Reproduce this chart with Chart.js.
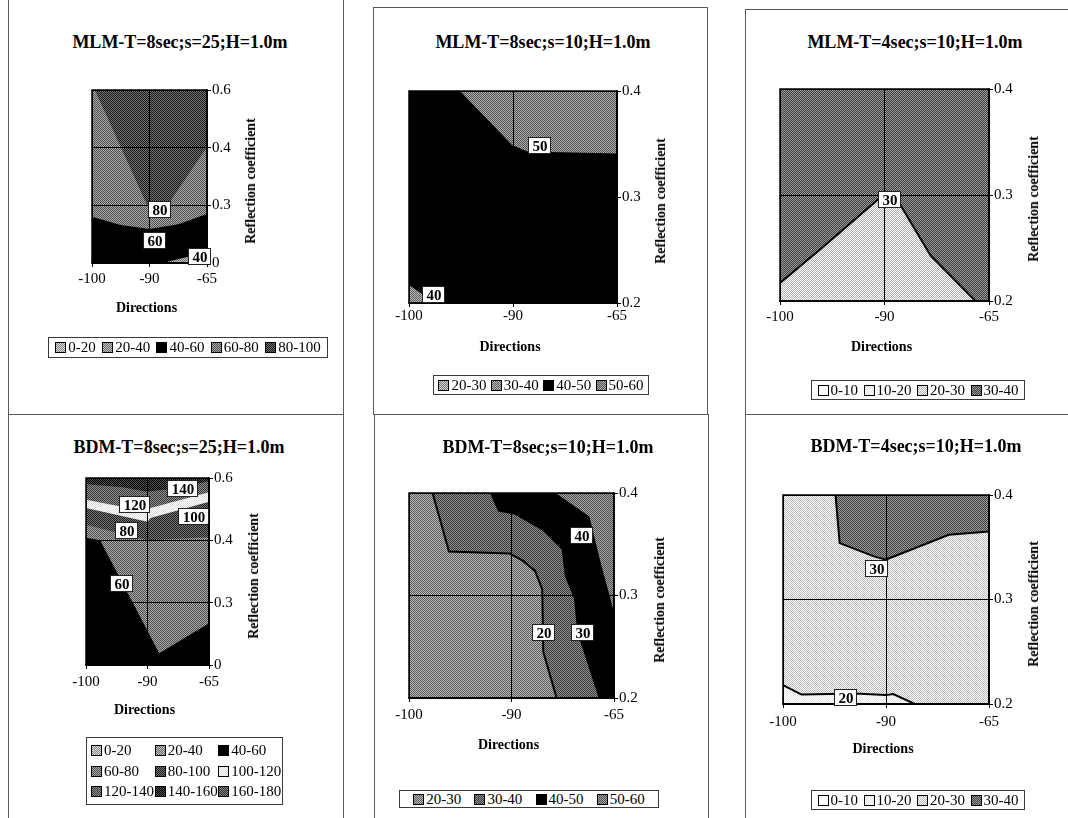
<!DOCTYPE html>
<html>
<head>
<meta charset="utf-8">
<title>Reflection coefficient vs direction – MLM / BDM contour maps</title>
<script src="https://cdn.jsdelivr.net/npm/chart.js@4.4.1/dist/chart.umd.min.js"></script>
<style>
  html, body { margin:0; padding:0; background:#fff; }
  body { position:relative; width:1068px; height:818px; overflow:hidden;
         font-family:'Liberation Serif','Times New Roman',serif; color:#000; }
  .frame { position:absolute; border:1px solid #5a5a5a; box-sizing:border-box; }
  canvas { position:absolute; }
  .t { position:absolute; white-space:nowrap; transform:translate(-50%,-50%); font-weight:bold; line-height:1; }
  .title { font-size:18px; }
  .axt { font-size:14px; }
  .yax { transform:translate(-50%,-50%) rotate(-90deg); }
  .legend { position:absolute; border:1px solid #3a3a3a; box-sizing:border-box; font-size:15px;
            display:flex; align-items:center; justify-content:space-evenly; }
  .legend.grid { display:grid; grid-template-columns:repeat(3,1fr); align-content:space-evenly;
                 justify-content:stretch; padding-left:4px; }
  .item { display:flex; align-items:center; white-space:nowrap; line-height:1; }
  .sw { width:9px; height:9px; border:1px solid #000; margin-right:2px; flex:none; }
</style>
</head>
<body>
<script>
// ---- category axes -------------------------------------------------------
const directions = ['-100', '-90', '-65'];
const reflectionWide = ['0', '0.3', '0.4', '0.6'];
const reflectionNarrow = ['0.2', '0.3', '0.4'];

// ---- value bands shown in the legends ------------------------------------
const bands0to100 = ['0-20', '20-40', '40-60', '60-80', '80-100'];
const bands20to60 = ['20-30', '30-40', '40-50', '50-60'];
const bands0to40 = ['0-10', '10-20', '20-30', '30-40'];
const bands0to180 = ['0-20', '20-40', '40-60', '60-80', '80-100', '100-120', '120-140', '140-160', '160-180'];

// grey tone of each band (0 = black, 255 = white)
const tonesMlm8s25 = [175, 150, 0, 125, 70];
const tonesMlm8s10 = [165, 140, 0, 128];
const tonesMlm4s10 = [255, 240, 214, 108];
const tonesBdm8s25 = [180, 150, 0, 124, 74, 238, 100, 40, 90];
const tonesBdm8s10 = [138, 100, 0, 122];
const tonesBdm4s10 = [255, 242, 220, 110];

// ---- contour lines: [direction index, reflection index] ------------------
// MLM  T=8s  s=25
const mlm8s25Level60 = [[0, 0.80], [0.5, 0.66], [1, 0.59], [1.5, 0.67], [2, 0.85]];
const mlm8s25Level80 = [[0.05, 3], [0.97, 0.98], [1.3, 0.98], [2, 2.01]];
const mlm8s25Level40 = [[1.23, 0], [2, 0.19]];
const mlm8s25Tags = [['80', 1.19, 0.92], ['60', 1.09, 0.39], ['40', 1.87, 0.10]];

// MLM  T=8s  s=10
const mlm8s10Level50 = [[0.49, 2], [0.99, 1.49], [1.14, 1.43], [2, 1.41]];
const mlm8s10Level40 = [[0, 0.17], [0.25, 0]];
const mlm8s10Tags = [['50', 1.26, 1.48], ['40', 0.24, 0.08]];

// MLM  T=4s  s=10
const mlm4s10Level30 = [[0, 0.17], [0.4, 0.5], [0.94, 0.96], [1.0, 1.0], [1.12, 0.96], [1.44, 0.43], [1.87, 0]];
const mlm4s10Tags = [['30', 1.05, 0.95]];

// BDM  T=8s  s=25
const bdm8s25Level60 = [[0, 2.04], [0.23, 2.0], [1.19, 0.19], [2, 0.67]];
const bdm8s25Level80 = [[0, 2.25], [1, 2.0], [2, 2.05]];
const bdm8s25Level100 = [[0, 2.52], [1, 2.30], [1.05, 2.36], [2, 2.62]];
const bdm8s25Level120 = [[0, 2.65], [1, 2.46], [1.05, 2.52], [2, 2.77]];
const bdm8s25Level140 = [[0, 2.9], [0.6, 2.85], [1, 2.78], [1.6, 2.85], [2, 2.95]];
const bdm8s25Tags = [['140', 1.57, 2.83], ['120', 0.80, 2.57], ['100', 1.76, 2.38], ['80', 0.67, 2.15], ['60', 0.59, 1.30]];

// BDM  T=8s  s=10
const bdm8s10Level50 = [[0, 2], [1.43, 2], [1.76, 1.77], [1.87, 1.32], [2, 0.84]];
const bdm8s10Level40 = [[0, 2], [0.79, 2], [0.87, 1.82], [1.03, 1.79], [1.31, 1.63], [1.49, 1.45], [1.52, 1.19], [1.61, 0.97], [1.64, 0.65], [1.85, 0]];
const bdm8s10Level30 = [[0, 2], [0.23, 2], [0.39, 1.43], [0.98, 1.41], [1.11, 1.34], [1.23, 1.24], [1.30, 1.06], [1.31, 0.45], [1.44, 0]];
const bdm8s10Tags = [['40', 1.69, 1.58], ['20', 1.32, 0.63], ['30', 1.70, 0.63]];

// BDM  T=4s  s=10
const bdm4s10Level30 = [[0.51, 2], [0.55, 1.54], [0.89, 1.41], [1.0, 1.38], [1.02, 1.39], [1.61, 1.62], [2, 1.65]];
const bdm4s10Level20 = [[0, 0.18], [0.18, 0.09], [0.7, 0.10], [1.0, 0.085], [1.07, 0.095], [1.28, 0]];
const bdm4s10Tags = [['30', 0.91, 1.29], ['20', 0.61, 0.057]];

// ---- panel layout ----------------------------------------------------------
const panels = [
  { title: 'MLM-T=8sec;s=25;H=1.0m', frame: [8, -2, 344, 415], plot: [92, 90, 207, 263], titleAt: [180, 42],
    yCats: reflectionWide, bands: bands0to100, tones: tonesMlm8s25, base: 2,
    contours: [{ line: mlm8s25Level60, band: 3, side: 'end' }, { line: mlm8s25Level80, band: 4, side: 'end' },
               { line: mlm8s25Level40, band: 1, side: 'start' }],
    tags: mlm8s25Tags, xLabelOffset: 16, dirY: 308, yTitleX: 251, legend: [48, 337, 328, 358] },
  { title: 'MLM-T=8sec;s=10;H=1.0m', frame: [373, 7, 708, 415], plot: [409, 91, 617, 303], titleAt: [543, 42],
    yCats: reflectionNarrow, bands: bands20to60, tones: tonesMlm8s10, base: 2,
    contours: [{ line: mlm8s10Level50, band: 3, side: 'end' }, { line: mlm8s10Level40, band: 1, side: 'start' }],
    tags: mlm8s10Tags, xLabelOffset: 13, dirY: 347, yTitleX: 661, legend: [433, 375, 649, 395] },
  { title: 'MLM-T=4sec;s=10;H=1.0m', frame: [745, 9, 1075, 415], plot: [780, 89, 989, 301], titleAt: [915, 42],
    yCats: reflectionNarrow, bands: bands0to40, tones: tonesMlm4s10, base: 3,
    contours: [{ line: mlm4s10Level30, band: 2, side: 'start', stroke: true }],
    tags: mlm4s10Tags, xLabelOffset: 16, dirY: 347, yTitleX: 1034, legend: [811, 380, 1025, 400] },
  { title: 'BDM-T=8sec;s=25;H=1.0m', frame: [8, 414, 344, 825], plot: [86, 478, 209, 665], titleAt: [179, 447],
    yCats: reflectionWide, bands: bands0to180, tones: tonesBdm8s25, base: 2,
    contours: [{ line: bdm8s25Level60, band: 3, side: 'end' }, { line: bdm8s25Level80, band: 4, side: 'end' },
               { line: bdm8s25Level100, band: 5, side: 'end' }, { line: bdm8s25Level120, band: 6, side: 'end' },
               { line: bdm8s25Level140, band: 7, side: 'end' }],
    tags: bdm8s25Tags, xLabelOffset: 17, dirY: 710, yTitleX: 254, legend: [86, 737, 283, 805], grid: true },
  { title: 'BDM-T=8sec;s=10;H=1.0m', frame: [374, 414, 709, 825], plot: [409, 493, 614, 698], titleAt: [548, 447],
    yCats: reflectionNarrow, bands: bands20to60, tones: tonesBdm8s10, base: 3,
    contours: [{ line: bdm8s10Level50, band: 2, side: 'start' }, { line: bdm8s10Level40, band: 1, side: 'start' },
               { line: bdm8s10Level30, band: 0, side: 'start', stroke: true }],
    tags: bdm8s10Tags, xLabelOffset: 17, dirY: 745, yTitleX: 660, legend: [399, 790, 659, 808] },
  { title: 'BDM-T=4sec;s=10;H=1.0m', frame: [745, 414, 1075, 825], plot: [783, 495, 989, 704], titleAt: [916, 446],
    yCats: reflectionNarrow, bands: bands0to40, tones: tonesBdm4s10, base: 2,
    contours: [{ line: bdm4s10Level30, band: 3, side: 'end', stroke: true },
               { line: bdm4s10Level20, band: 1, side: 'start', stroke: true }],
    tags: bdm4s10Tags, xLabelOffset: 18, dirY: 749, yTitleX: 1034, legend: [811, 790, 1025, 810] }
];

// ---- helpers ---------------------------------------------------------------
const SERIF = "'Liberation Serif','Times New Roman',serif";
const grey = v => { const c = Math.max(0, Math.min(255, Math.round(v))); return `rgb(${c},${c},${c})`; };
const spread = t => Math.min(t, 255 - t, 45);

// halftone-like two-tone checker used for the band fills
function stipple(ctx, tone) {
  if (tone <= 6) return '#000';
  const d = spread(tone);
  if (d <= 2) return grey(tone);
  const tile = document.createElement('canvas');
  tile.width = tile.height = 2;
  const g = tile.getContext('2d');
  g.fillStyle = grey(tone + d); g.fillRect(0, 0, 2, 2);
  g.fillStyle = grey(tone - d); g.fillRect(0, 0, 1, 1); g.fillRect(1, 1, 1, 1);
  return ctx.createPattern(tile, 'repeat');
}
function swatchCss(tone) {
  if (tone <= 6) return '#000';
  const d = spread(tone);
  return `repeating-conic-gradient(${grey(tone - d)} 0% 25%, ${grey(tone + d)} 0% 50%) 0 0 / 2px 2px`;
}
function addText(cls, text, x, y) {
  const el = document.createElement('div');
  el.className = 't ' + cls;
  el.textContent = text;
  el.style.left = x + 'px';
  el.style.top = y + 'px';
  document.body.appendChild(el);
}

// frame of the plot area plus the boxed contour values
const levelTags = {
  id: 'levelTags',
  afterDraw(chart, args, opts) {
    const { ctx, chartArea: a, scales } = chart;
    ctx.save();
    ctx.strokeStyle = '#000';
    ctx.lineWidth = 1.5;
    ctx.strokeRect(a.left, a.top, a.right - a.left, a.bottom - a.top);
    ctx.font = `bold 15px ${SERIF}`;
    ctx.textAlign = 'center';
    ctx.textBaseline = 'middle';
    for (const [text, vx, vy] of (opts.items || [])) {
      const px = Math.round(scales.x.getPixelForValue(vx));
      const py = Math.round(scales.y.getPixelForValue(vy));
      const w = Math.round(ctx.measureText(text).width + 8), h = 17;
      const l = px - Math.round(w / 2), t = py - Math.round(h / 2);
      ctx.fillStyle = '#fff';
      ctx.fillRect(l, t, w, h);
      ctx.strokeStyle = '#222';
      ctx.lineWidth = 1;
      ctx.strokeRect(l + 0.5, t + 0.5, w - 1, h - 1);
      ctx.fillStyle = '#000';
      ctx.fillText(text, px, py + 1);
    }
    ctx.restore();
  }
};

function buildPanel(p) {
  const [fl, ft, fr, fb] = p.frame;
  const frame = document.createElement('div');
  frame.className = 'frame';
  Object.assign(frame.style, { left: fl + 'px', top: ft + 'px', width: (fr - fl) + 'px', height: (fb - ft) + 'px' });
  document.body.appendChild(frame);

  const [pl, pt, pr, pb] = p.plot;
  const PADL = 40, PADT = 10, PADR = 10, PADB = 10, AXW = 40, AXH = 34;
  const W = (pr - pl) + PADL + AXW + PADR;
  const H = (pb - pt) + PADT + AXH + PADB;
  const cv = document.createElement('canvas');
  cv.width = W; cv.height = H;
  Object.assign(cv.style, { left: (pl - PADL) + 'px', top: (pt - PADT) + 'px', width: W + 'px', height: H + 'px' });
  document.body.appendChild(cv);
  const ctx = cv.getContext('2d');

  const yMax = p.yCats.length - 1;
  const xMax = directions.length - 1;
  const toPts = line => line.map(([x, y]) => ({ x, y }));
  const datasets = [];
  // lowest layer: whole field in the base band
  datasets.push({ data: [{ x: 0, y: yMax }, { x: xMax, y: yMax }], fill: 'start',
                  backgroundColor: stipple(ctx, p.tones[p.base]), borderWidth: 0 });
  for (const c of p.contours) {
    datasets.push({ data: toPts(c.line), fill: c.side, backgroundColor: stipple(ctx, p.tones[c.band]), borderWidth: 0 });
  }
  for (const c of p.contours) {
    if (c.stroke) datasets.push({ data: toPts(c.line), fill: false, borderColor: '#000', borderWidth: 2 });
  }
  datasets.forEach((d, i) => {
    d.order = datasets.length - i;
    d.pointRadius = 0; d.pointHoverRadius = 0; d.tension = 0;
    if (!d.borderColor) d.borderColor = 'rgba(0,0,0,0)';
  });

  const tickFont = { family: SERIF, size: 15 };
  const xPad = Math.max(0, p.xLabelOffset - 4 - 9);
  new Chart(ctx, {
    type: 'line',
    data: { datasets },
    options: {
      responsive: false, animation: false, events: [],
      layout: { padding: { left: PADL, top: PADT, right: PADR, bottom: PADB } },
      plugins: {
        legend: { display: false }, title: { display: false }, tooltip: { enabled: false },
        filler: { drawTime: 'beforeDatasetsDraw' },
        levelTags: { items: p.tags }
      },
      scales: {
        x: {
          type: 'linear', min: 0, max: xMax, position: 'bottom',
          afterBuildTicks: s => { s.ticks = directions.map((_, i) => ({ value: i })); },
          afterFit: s => { s.height = AXH; },
          ticks: { callback: v => directions[v], font: tickFont, color: '#000', padding: xPad,
                   maxRotation: 0, autoSkip: false },
          grid: { color: '#000', lineWidth: 1, tickLength: 4, drawTicks: true, z: 1 },
          border: { display: true, color: '#000', width: 1.5, z: 1 }
        },
        y: {
          type: 'linear', min: 0, max: yMax, position: 'right',
          afterBuildTicks: s => { s.ticks = p.yCats.map((_, i) => ({ value: i })); },
          afterFit: s => { s.width = AXW; },
          ticks: { callback: v => p.yCats[v], font: tickFont, color: '#000', padding: 1, autoSkip: false },
          grid: { color: '#000', lineWidth: 1, tickLength: 4, drawTicks: true, z: 1 },
          border: { display: true, color: '#000', width: 1.5, z: 1 }
        }
      }
    },
    plugins: [levelTags]
  });

  addText('title', p.title, p.titleAt[0], p.titleAt[1]);
  addText('axt', 'Directions', (pl + pr) / 2 - 3, p.dirY);
  addText('axt yax', 'Reflection coefficient', p.yTitleX, (pt + pb) / 2 + 4);

  const [ll, lt, lr, lb] = p.legend;
  const lg = document.createElement('div');
  lg.className = 'legend' + (p.grid ? ' grid' : '');
  Object.assign(lg.style, { left: ll + 'px', top: lt + 'px', width: (lr - ll) + 'px', height: (lb - lt) + 'px' });
  p.bands.forEach((label, i) => {
    const item = document.createElement('div');
    item.className = 'item';
    const sw = document.createElement('span');
    sw.className = 'sw';
    sw.style.background = swatchCss(p.tones[i]);
    const tx = document.createElement('span');
    tx.textContent = label;
    item.appendChild(sw); item.appendChild(tx);
    lg.appendChild(item);
  });
  document.body.appendChild(lg);
}

panels.forEach(buildPanel);
</script>
</body>
</html>
